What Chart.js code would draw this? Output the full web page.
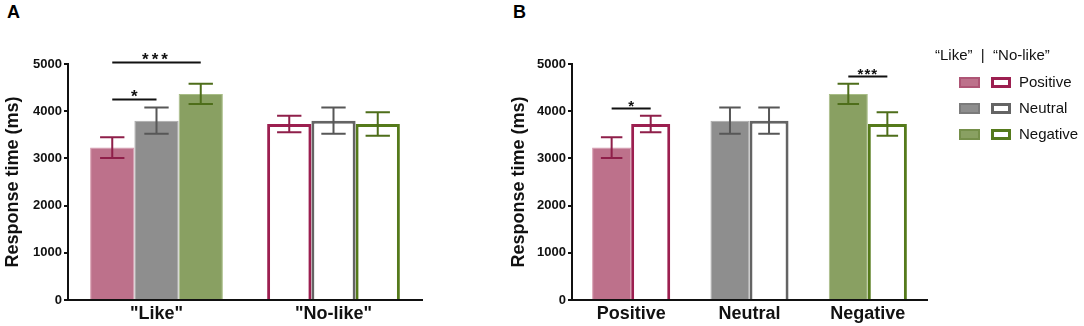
<!DOCTYPE html>
<html>
<head>
<meta charset="utf-8">
<script src="https://cdn.jsdelivr.net/npm/chart.js@4/dist/chart.umd.min.js"></script>
<style>
    body { margin: 0; background: #fff; font-family: "Liberation Sans", Arial, sans-serif; }
    #page { position: relative; width: 1084px; height: 326px; overflow: hidden; }
    .panel { position: absolute; top: 0; height: 326px; width: 440px; }
    .tag { position: absolute; top: 2px; font-weight: bold; font-size: 18px; }
    #legend { position: absolute; left: 935px; top: 46px; font-size: 15px; color: #111; z-index: 2; }
    #legend .head { white-space: pre; height: 18px; line-height: 18px; }
    #legend .row { position: relative; height: 26px; }
    #legend .sw { position: absolute; top: 7px; height: 11px; box-sizing: border-box; }
    #legend .txt { position: absolute; left: 84px; top: 3px; line-height: 18px; }
</style>
</head>
<body>
<div id="page">
    <div class="tag" style="left:7px">A</div>
    <div class="tag" style="left:513px">B</div>
    <div class="panel" style="left:0px"><canvas id="chartA"></canvas></div>
    <div class="panel" style="left:506px"><canvas id="chartB"></canvas></div>
    <div id="legend"></div>
</div>
<script>
const likeCategories = ['"Like"', '"No-like"'];
const valenceCategories = ['Positive', 'Neutral', 'Negative'];

// means and error (ms), in order Positive, Neutral, Negative
const likeMeans = [3230, 3800, 4365];
const likeErrors = [220, 280, 215];
const nolikeMeans = [3730, 3800, 3730];
const nolikeErrors = [175, 280, 250];

const yMax = 5000;
const yStep = 1000;

const fillColors = ['#bd718b', '#8e8e8e', '#89a062'];
const fillBorders = ['#d497ab', '#a9a9a9', '#a8bd86'];
const lineColors = ['#9c1f50', '#646464', '#557a1b'];
const errColors = ['#8f1f4a', '#575757', '#4e6e1a'];

// significance brackets: [datasetIndex, dataIndex] pairs and level in ms
const bracketsA = [
    { from: [0, 0], to: [1, 0], level: 4250, label: '*' },
    { from: [0, 0], to: [2, 0], level: 5050, label: '***' },
];
const bracketsB = [
    { from: [0, 0], to: [1, 0], level: 4070, label: '*' },
    { from: [0, 2], to: [1, 2], level: 4750, label: '***' },
];

const fontFamily = '"Liberation Sans", Arial, sans-serif';

const errorBarPlugin = {
    id: 'errorBars',
    afterDatasetsDraw(chart) {
        const ctx = chart.ctx;
        const y = chart.scales.y;
        chart.data.datasets.forEach((ds, di) => {
            const meta = chart.getDatasetMeta(di);
            meta.data.forEach((bar, i) => {
                const top = y.getPixelForValue(ds.data[i] + ds.errors[i]);
                const bottom = y.getPixelForValue(ds.data[i] - ds.errors[i]);
                const half = bar.width * 0.275;
                ctx.save();
                ctx.strokeStyle = ds.errColors[i];
                ctx.lineWidth = 2;
                ctx.beginPath();
                ctx.moveTo(bar.x, top);
                ctx.lineTo(bar.x, bottom);
                ctx.moveTo(bar.x - half, top);
                ctx.lineTo(bar.x + half, top);
                ctx.moveTo(bar.x - half, bottom);
                ctx.lineTo(bar.x + half, bottom);
                ctx.stroke();
                ctx.restore();
            });
        });
    },
};

const bracketPlugin = {
    id: 'brackets',
    afterDraw(chart, args, opts) {
        const ctx = chart.ctx;
        const y = chart.scales.y;
        (opts.list || []).forEach((b) => {
            const x1 = chart.getDatasetMeta(b.from[0]).data[b.from[1]].x;
            const x2 = chart.getDatasetMeta(b.to[0]).data[b.to[1]].x;
            const py = Math.round(y.getPixelForValue(b.level)) + 0.5;
            ctx.save();
            ctx.strokeStyle = '#111';
            ctx.lineWidth = 2;
            ctx.beginPath();
            ctx.moveTo(x1, py);
            ctx.lineTo(x2, py);
            ctx.stroke();
            ctx.fillStyle = '#111';
            ctx.font = 'bold ' + (opts.size || 16) + 'px ' + fontFamily;
            ctx.textAlign = 'center';
            ctx.textBaseline = 'alphabetic';
            if (b.label.length > 1) ctx.letterSpacing = opts.spacing || '1px';
            ctx.fillText(b.label, (x1 + x2) / 2, py + 2);
            ctx.restore();
        });
    },
};

const makeOptions = (yWidth, padRight, brackets, spacing, starSize) => ({
    responsive: true,
    maintainAspectRatio: false,
    animation: false,
    layout: { padding: { top: 64, right: padRight, bottom: 0, left: 0 } },
    plugins: {
        legend: { display: false },
        tooltip: { enabled: false },
        brackets: { list: brackets, spacing: spacing, size: starSize },
    },
    scales: {
        x: {
            grid: { display: false, drawTicks: false },
            border: { display: true, color: '#111', width: 2 },
            ticks: {
                color: '#111',
                padding: 3,
                font: { family: fontFamily, size: 18, weight: 'bold' },
            },
            afterFit: (scale) => { scale.height = 26; },
        },
        y: {
            min: 0,
            max: yMax,
            grid: { drawOnChartArea: false, drawTicks: true, tickLength: 4, color: '#111', lineWidth: 2 },
            border: { display: true, color: '#111', width: 2 },
            ticks: {
                stepSize: yStep,
                color: '#111',
                padding: 2,
                font: { family: fontFamily, size: 13, weight: 'bold' },
                callback: (value) => String(value),
            },
            title: {
                display: true,
                text: 'Response time (ms)',
                color: '#111',
                padding: { top: 2, bottom: 0 },
                font: { family: fontFamily, size: 18, weight: 'bold' },
            },
            afterFit: (scale) => { scale.width = yWidth; },
        },
    },
});

// panel A: one dataset per valence, grouped by like / no-like
const datasetsA = valenceCategories.map((name, v) => ({
    label: name,
    data: [likeMeans[v], nolikeMeans[v]],
    errors: [likeErrors[v], nolikeErrors[v]],
    errColors: [errColors[v], errColors[v]],
    backgroundColor: [fillColors[v], '#ffffff'],
    borderColor: [fillBorders[v], lineColors[v]],
    borderWidth: [1, 3],
    categoryPercentage: 0.75,
    barPercentage: 1,
}));

new Chart(document.getElementById('chartA'), {
    type: 'bar',
    data: { labels: likeCategories, datasets: datasetsA },
    options: makeOptions(68, 18, bracketsA, '3px', 17),
    plugins: [errorBarPlugin, bracketPlugin],
});

// panel B: like vs no-like, grouped by valence
const datasetsB = [
    {
        label: '"Like"',
        data: likeMeans,
        errors: likeErrors,
        errColors: errColors,
        backgroundColor: fillColors,
        borderColor: fillBorders,
        borderWidth: 1,
        categoryPercentage: 0.66,
        barPercentage: 1,
    },
    {
        label: '"No-like"',
        data: nolikeMeans,
        errors: nolikeErrors,
        errColors: errColors,
        backgroundColor: '#ffffff',
        borderColor: lineColors,
        borderWidth: 3,
        categoryPercentage: 0.66,
        barPercentage: 1,
    },
];

new Chart(document.getElementById('chartB'), {
    type: 'bar',
    data: { labels: valenceCategories, datasets: datasetsB },
    options: makeOptions(66, 19, bracketsB, '1px', 15),
    plugins: [errorBarPlugin, bracketPlugin],
});

// legend
const legend = document.getElementById('legend');
legend.innerHTML = '<div class="head">\u201CLike\u201D  |  \u201CNo-like\u201D</div><div style="height:6px"></div>';
valenceCategories.forEach((name, v) => {
    const row = document.createElement('div');
    row.className = 'row';
    row.innerHTML =
        '<span class="sw" style="left:24px;width:21px;background:' + fillColors[v] +
        ';border:2px solid ' + errColors[v] + '55"></span>' +
        '<span class="sw" style="left:56px;width:20px;background:#fff;border:3px solid ' + lineColors[v] + '"></span>' +
        '<span class="txt">' + name + '</span>';
    legend.appendChild(row);
});
</script>
</body>
</html>
